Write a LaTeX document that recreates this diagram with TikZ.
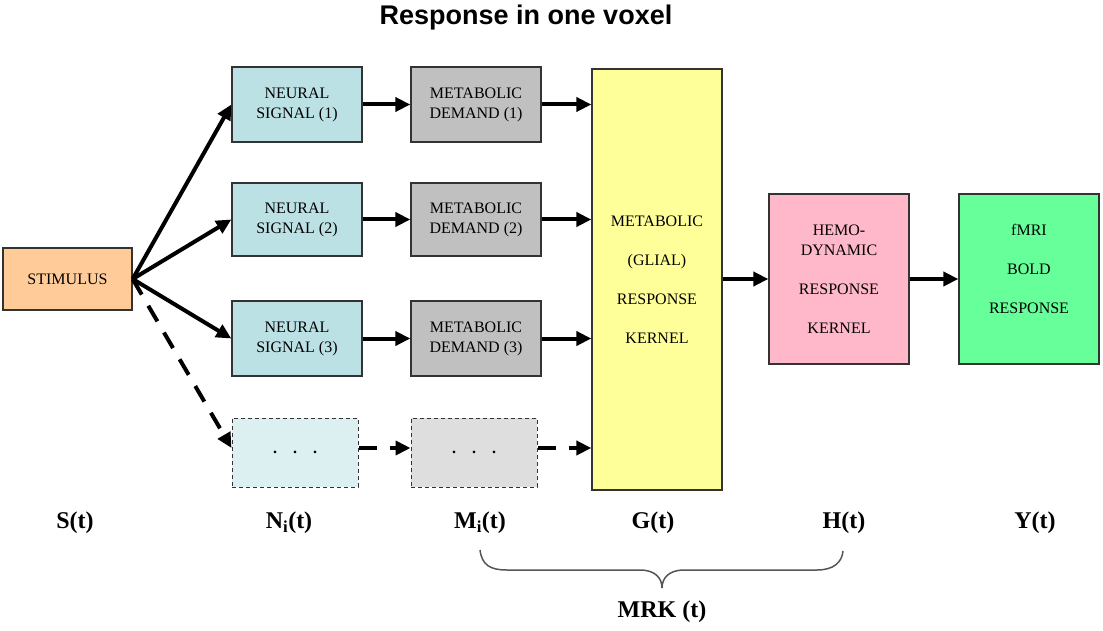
\documentclass[tikz,border=0pt]{standalone}
\usepackage{fontspec}
\setmainfont{Liberation Serif}
\newfontfamily\titlefont{Liberation Sans}
\usetikzlibrary{arrows.meta}
\definecolor{stimc}{HTML}{FFCC99}
\definecolor{neurc}{HTML}{BBE1E4}
\definecolor{neurd}{HTML}{DDF0F1}
\definecolor{metac}{HTML}{C0C0C0}
\definecolor{metad}{HTML}{DEDEDE}
\definecolor{glic}{HTML}{FFFF99}
\definecolor{hemc}{HTML}{FFB7CA}
\definecolor{boldc}{HTML}{66FF99}
\definecolor{boxline}{HTML}{333333}
\definecolor{bracec}{HTML}{555555}
\begin{document}
\begin{tikzpicture}[x=1pt,y=-1pt,
  box/.style={draw=boxline, line width=1.3pt, inner sep=0pt, align=center,
    font=\fontsize{16}{20}\selectfont},
  dbox/.style={box, dash pattern=on 4pt off 3pt, line width=1pt},
  arr/.style={line width=4pt, -{Triangle[length=15pt,width=14pt]}},
  darr/.style={arr, dash pattern=on 18pt off 13pt},
  lab/.style={font=\fontsize{24}{28}\selectfont\bfseries, inner sep=0pt},
  brace/.style={draw=bracec, line width=1.5pt}]
\useasboundingbox (0,0) rectangle (1103,631);

\node[font=\titlefont\fontsize{27}{30}\selectfont\bfseries, anchor=base] (title) at (526,25) {Response in one voxel};

\node[box, fill=stimc, minimum width=129pt, minimum height=62pt] (stim) at (67.5,279) {STIMULUS};

\node[box, fill=neurc, minimum width=130pt, minimum height=75pt] (n1) at (297,104.5) {NEURAL\\SIGNAL (1)};
\node[box, fill=neurc, minimum width=130pt, minimum height=73pt] (n2) at (297,219.5) {NEURAL\\SIGNAL (2)};
\node[box, fill=neurc, minimum width=130pt, minimum height=75pt] (n3) at (297,338.5) {NEURAL\\SIGNAL (3)};
\node[dbox, fill=neurd, minimum width=126pt, minimum height=69pt] (d1) at (295,452.5) {\textbf{.}\hspace{16pt}\textbf{.}\hspace{16pt}\textbf{.}};

\node[box, fill=metac, minimum width=130pt, minimum height=75pt] (m1) at (476,104.5) {METABOLIC\\DEMAND (1)};
\node[box, fill=metac, minimum width=130pt, minimum height=73pt] (m2) at (476,219.5) {METABOLIC\\DEMAND (2)};
\node[box, fill=metac, minimum width=130pt, minimum height=75pt] (m3) at (476,338.5) {METABOLIC\\DEMAND (3)};
\node[dbox, fill=metad, minimum width=126pt, minimum height=69pt] (d2) at (474,452.5) {\textbf{.}\hspace{16pt}\textbf{.}\hspace{16pt}\textbf{.}};

\node[box, fill=glic, minimum width=130pt, minimum height=421pt] (glial) at (657,279.5)
  {METABOLIC\\[19pt](GLIAL)\\[19pt]RESPONSE\\[19pt]KERNEL};
\node[box, fill=hemc, minimum width=140pt, minimum height=170pt] (hemo) at (839,279)
  {HEMO-\\DYNAMIC\\[19pt]RESPONSE\\[19pt]KERNEL};
\node[box, fill=boldc, minimum width=140pt, minimum height=170pt] (bold) at (1029,279)
  {fMRI\\[19pt]BOLD\\[19pt]RESPONSE\\[1pt]\mbox{}};

% stimulus fan
\draw[arr] (stim.east) -- (n1.west);
\draw[arr] (stim.east) -- (n2.west);
\draw[arr] (stim.east) -- (n3.west);
\draw[darr] (stim.east) -- ([yshift=4.5pt]d1.west);

% rows
\draw[arr] (n1.east) -- (m1.west);
\draw[arr] (n2.east) -- (m2.west);
\draw[arr] (n3.east) -- (m3.west);
\draw[darr] ([yshift=4.5pt]d1.east) -- ([yshift=4.5pt]d2.west);

\draw[arr] (m1.east) -- (m1.east -| glial.west);
\draw[arr] (m2.east) -- (m2.east -| glial.west);
\draw[arr] (m3.east) -- (m3.east -| glial.west);
\draw[darr] ([yshift=4.5pt]d2.east) -- ([yshift=4.5pt]d2.east -| glial.west);

\draw[arr] (glial.east |- hemo.west) -- (hemo.west);
\draw[arr] (hemo.east) -- (bold.west);

% bottom labels
\node[lab] (s) at (75,523) {S(t)};
\node[lab] (n) at (289,523) {N\textsubscript{i}(t)};
\node[lab] (m) at (480,523) {M\textsubscript{i}(t)};
\node[lab] (g) at (653,523) {G(t)};
\node[lab] (h) at (844,523) {H(t)};
\node[lab] (y) at (1035,523) {Y(t)};

\draw[brace] (480,550) .. controls (482,565) and (490,570) .. (507,570) -- (640,570)
  .. controls (655,570) and (662,578) .. (662,588)
  .. controls (662,578) and (669,570) .. (684,570) -- (817,570)
  .. controls (834,570) and (842,562) .. (843,551);

\node[lab] (mrk) at (662,612) {MRK (t)};
\end{tikzpicture}
\end{document}
